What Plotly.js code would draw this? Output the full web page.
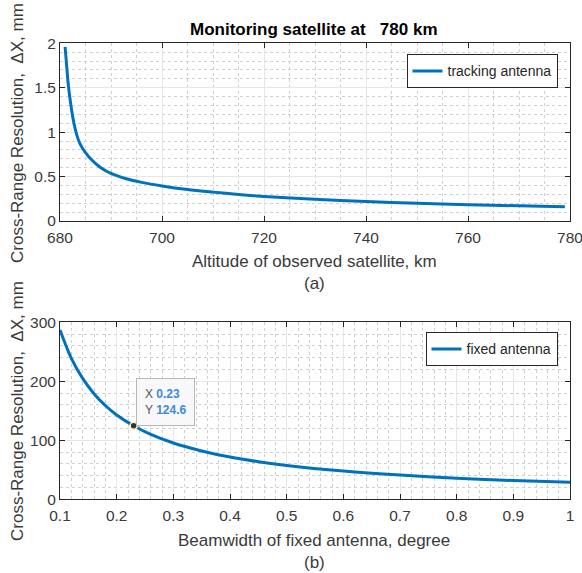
<!DOCTYPE html>
<html>
<head>
<meta charset="utf-8">
<script src="https://cdn.plot.ly/plotly-3.0.1.min.js"></script>
<style>html,body{margin:0;padding:0;background:#fff;}#chart{width:582px;height:573px;}</style>
</head>
<body>
<div id="chart"></div>
<script>
// Top panel: tracking antenna
const altitudeKm = [681.0, 681.3, 681.6, 682.0, 682.5, 683.0, 683.5, 684.0, 685.0, 686.0, 687.0, 688.0, 690.0, 693.0, 696.0, 700.0, 705.0, 710.0, 715.0, 720.0, 730.0, 740.0, 750.0, 760.0, 770.0, 779.0];
const trackingRes = [1.96, 1.75, 1.55, 1.36, 1.17, 1.03, 0.93, 0.86, 0.77, 0.70, 0.645, 0.60, 0.535, 0.475, 0.435, 0.395, 0.355, 0.325, 0.298, 0.277, 0.245, 0.219, 0.199, 0.183, 0.171, 0.161];
// Bottom panel: fixed antenna
const beamwidthDeg = [0.10, 0.12, 0.14, 0.16, 0.18, 0.20, 0.23, 0.26, 0.30, 0.35, 0.40, 0.45, 0.50, 0.60, 0.70, 0.80, 0.90, 1.00];
const fixedRes = [287, 239, 205, 179, 159, 143, 124.6, 110, 95.5, 82, 71.6, 63.7, 57.3, 47.8, 41, 35.8, 31.8, 28.7];
const tipX = 0.23, tipY = 124.6;

const W = 582, H = 573;
const px = v => v / W, py = v => 1 - v / H;
const FONT = 'Liberation Sans, Arial, sans-serif';
const AX = '#262626';
const TXT = '#3a3a3a';
const BLUE = '#0072BD';

function axisBase(extra) {
  return Object.assign({
    showline: true, linecolor: AX, linewidth: 1, mirror: 'ticks',
    ticks: 'inside', ticklen: 5, tickcolor: AX, tickwidth: 1,
    showgrid: true, gridcolor: '#e6e6e6', gridwidth: 1,
    zeroline: false, ticklabeloverflow: 'allow',
    tickfont: {family: FONT, size: 15.5, color: TXT},
    fixedrange: true
  }, extra);
}
function minorGrid(d) {
  return {showgrid: true, gridcolor: '#d0d0d0', griddash: 'dot', gridwidth: 1, dtick: d, ticks: ''};
}

const traces = [
  {x: altitudeKm, y: trackingRes, type: 'scatter', mode: 'lines', name: 'tracking antenna',
   line: {color: BLUE, width: 3, shape: 'spline', smoothing: 0.8}, xaxis: 'x', yaxis: 'y', legend: 'legend'},
  {x: beamwidthDeg, y: fixedRes, type: 'scatter', mode: 'lines', name: 'fixed antenna',
   line: {color: BLUE, width: 3, shape: 'spline', smoothing: 0.8}, xaxis: 'x2', yaxis: 'y2', legend: 'legend2'},
  {x: [tipX], y: [tipY], type: 'scatter', mode: 'markers', showlegend: false,
   marker: {color: '#333333', size: 7, line: {color: '#fff3b0', width: 1.5}}, xaxis: 'x2', yaxis: 'y2'}
];

const legendBase = {
  bgcolor: '#ffffff', bordercolor: AX, borderwidth: 1,
  font: {family: FONT, size: 14, color: AX},
  xanchor: 'right', yanchor: 'top', itemwidth: 30
};

function txt(t, x, y, size, extra) {
  return Object.assign({text: t, x: px(x), y: py(y), xref: 'paper', yref: 'paper', showarrow: false,
    font: {family: FONT, size: size, color: TXT}, xanchor: 'center', yanchor: 'middle'}, extra || {});
}

const layout = {
  width: W, height: H,
  margin: {l: 0, r: 0, t: 0, b: 0},
  paper_bgcolor: '#ffffff', plot_bgcolor: '#ffffff',
  font: {family: FONT, color: AX},
  xaxis: axisBase({domain: [px(60), px(570)], range: [680, 780], dtick: 20, tick0: 680, minor: minorGrid(5), anchor: 'y', ticklabelstandoff: 2}),
  yaxis: axisBase({domain: [py(221), py(43.3)], range: [0, 2], dtick: 0.5, minor: minorGrid(0.1), anchor: 'x'}),
  xaxis2: axisBase({domain: [px(60), px(570)], range: [0.1, 1], dtick: 0.1, tick0: 0.1, minor: minorGrid(0.02), anchor: 'y2', ticklabelstandoff: 2}),
  yaxis2: axisBase({domain: [py(499.3), py(322.3)], range: [0, 300], dtick: 100, minor: minorGrid(20), anchor: 'x2'}),
  legend: Object.assign({}, legendBase, {x: px(557.5), y: py(54.3)}),
  legend2: Object.assign({}, legendBase, {x: px(557.5), y: py(332.3)}),
  annotations: [
    txt('<b>Monitoring satellite at   780 km</b>', 314, 30, 17, {font: {family: FONT, size: 17, color: '#000'}}),
    txt('Altitude of observed satellite, km', 314, 261, 17),
    txt('(a)', 314, 284, 17),
    txt('Cross-Range Resolution,  ΔX, mm', 17, 133, 17, {textangle: -90}),
    txt('Beamwidth of fixed antenna, degree', 314, 540, 17),
    txt('(b)', 314, 562, 17),
    txt('Cross-Range Resolution,  ΔX, mm', 17, 411, 17, {textangle: -90}),
    {text: '<span style="color:#555555">X</span> <b style="color:#3d8bd8">' + tipX + '</b><br><span style="color:#555555">Y</span> <b style="color:#3d8bd8">' + tipY + '</b>',
     x: tipX, y: tipY, xref: 'x2', yref: 'y2', xanchor: 'left', yanchor: 'bottom', xshift: 2, yshift: 0,
     showarrow: false, align: 'left', bgcolor: '#f8f8fa', bordercolor: '#b8b8b8', borderwidth: 1, borderpad: 8,
     font: {family: FONT, size: 12, color: '#555555'}}
  ]
};

Plotly.newPlot('chart', traces, layout, {displayModeBar: false, staticPlot: true});
</script>
</body>
</html>
